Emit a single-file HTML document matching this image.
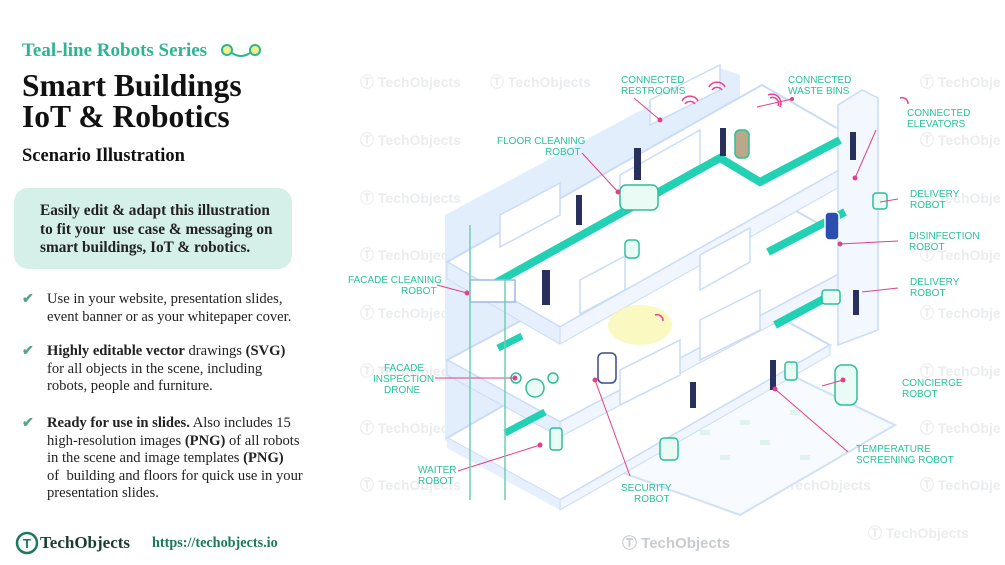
<!DOCTYPE html>
<html><head><meta charset="utf-8"><style>
body{margin:0;width:1005px;height:565px;background:#fff;overflow:hidden;position:relative;font-family:"Liberation Serif",serif}
.a{position:absolute;white-space:nowrap}
.t{font-weight:bold;color:#111}
.b{font-size:14.6px;color:#222;line-height:17.5px}
.ck{position:absolute;left:22px;color:#5aa28a;font-size:14px;font-weight:bold}
.lb{font-family:"Liberation Sans",sans-serif;font-size:10px;fill:#28c29c}
.wm{font-family:"Liberation Sans",sans-serif;font-size:14px;fill:#eaecee;font-weight:bold}
</style></head><body>
<div class="a" style="left:22px;top:40px;font-size:19px;font-weight:bold;color:#2bb594">Teal-line Robots Series</div>
<svg class="a" style="left:220px;top:42px" width="44" height="18"><circle cx="7" cy="8" r="5" fill="#f3f08a" stroke="#2bb594" stroke-width="2"/><circle cx="35" cy="8" r="5" fill="#f3f08a" stroke="#2bb594" stroke-width="2"/><path d="M12 11 Q21 17 30 11" fill="none" stroke="#2bb594" stroke-width="2"/></svg>
<div class="a t" style="left:22px;top:70px;font-size:31.5px;line-height:31px">Smart Buildings<br>IoT &amp; Robotics</div>
<div class="a t" style="left:22px;top:146px;font-size:18.5px">Scenario Illustration</div>
<div class="a" style="left:14px;top:188px;width:278px;height:81px;background:#d5f0e8;border-radius:14px"></div>
<div class="a t" style="left:40px;top:202px;font-size:15.3px;line-height:18.5px;color:#222">Easily edit &amp; adapt this illustration<br>to fit your &nbsp;use case &amp; messaging on<br>smart buildings, IoT &amp; robotics.</div>
<div class="ck" style="top:291px">✔</div>
<div class="a b" style="left:47px;top:291px">Use in your website, presentation slides,<br>event banner or as your whitepaper cover.</div>
<div class="ck" style="top:343px">✔</div>
<div class="a b" style="left:47px;top:343px"><b>Highly editable vector</b> drawings <b>(SVG)</b><br>for all objects in the scene, including<br>robots, people and furniture.</div>
<div class="ck" style="top:415px">✔</div>
<div class="a b" style="left:47px;top:415px"><b>Ready for use in slides.</b> Also includes 15<br>high-resolution images <b>(PNG)</b> of all robots<br>in the scene and image templates <b>(PNG)</b><br>of &nbsp;building and floors for quick use in your<br>presentation slides.</div>
<svg class="a" style="left:15px;top:531px" width="24" height="24"><circle cx="12" cy="12" r="10" fill="none" stroke="#1b7a5c" stroke-width="2.5"/><text x="12" y="17" text-anchor="middle" font-size="13" font-weight="bold" fill="#1b7a5c" font-family="Liberation Sans">T</text></svg>
<div class="a" style="left:40px;top:533px;font-size:17px;font-weight:bold;color:#1c3d33">TechObjects</div>
<div class="a" style="left:152px;top:535px;font-size:14.2px;font-weight:bold;color:#1b7a5c">https://techobjects.io</div>

<svg class="a" style="left:0;top:0" width="1005" height="565">
<g class="wm">
<text x="360" y="87">Ⓣ TechObjects</text><text x="490" y="87">Ⓣ TechObjects</text><text x="920" y="87">Ⓣ TechObje</text>
<text x="360" y="145">Ⓣ TechObjects</text><text x="920" y="145">Ⓣ TechObje</text>
<text x="360" y="203">Ⓣ TechObjects</text><text x="920" y="203">Ⓣ TechObje</text>
<text x="360" y="260">Ⓣ TechObjects</text><text x="920" y="260">Ⓣ TechObje</text>
<text x="360" y="318">Ⓣ TechObjects</text><text x="920" y="318">Ⓣ TechObje</text>
<text x="360" y="376">Ⓣ TechObjects</text><text x="920" y="376">Ⓣ TechObje</text>
<text x="360" y="433">Ⓣ TechObjects</text><text x="920" y="433">Ⓣ TechObje</text>
<text x="360" y="490">Ⓣ TechObjects</text><text x="770" y="490">Ⓣ TechObjects</text><text x="920" y="490">Ⓣ TechObje</text>
<text x="868" y="538">Ⓣ TechObjects</text>
</g>
<text x="622" y="548" font-family="Liberation Sans" font-size="15" font-weight="bold" fill="#c8cccf">Ⓣ TechObjects</text>
<polygon points="445,215 720,68 740,75 740,160 570,250 570,400 565,505 445,440" fill="#e2eefc"/>
<polygon points="615,470 740,515 895,425 770,365" fill="#f7fafe" stroke="#cfe0f7" stroke-width="2"/>
<g fill="#dff3ec"><rect x="700" y="430" width="10" height="5"/><rect x="740" y="420" width="10" height="5"/><rect x="760" y="440" width="10" height="5"/><rect x="720" y="455" width="10" height="5"/><rect x="790" y="410" width="10" height="5"/><rect x="800" y="455" width="10" height="5"/></g>
<polygon points="447,438 560,500 830,345 717,283" fill="#fff" stroke="#c9dcf7" stroke-width="2"/>
<polygon points="447,438 560,500 560,510 447,448" fill="#e6effd"/>
<polygon points="560,500 830,345 830,355 560,510" fill="#f0f5fe" stroke="#c9dcf7"/>
<polygon points="447,360 560,422 875,255 762,192" fill="#fff" stroke="#c9dcf7" stroke-width="2"/>
<polygon points="447,360 560,422 560,437 447,375" fill="#e6effd" stroke="#c9dcf7"/>
<polygon points="560,422 875,255 875,270 560,437" fill="#f0f5fe" stroke="#c9dcf7"/>
<polygon points="447,262 560,327 875,150 762,85" fill="#fff" stroke="#c9dcf7" stroke-width="2"/>
<polygon points="447,262 560,327 560,344 447,279" fill="#e6effd" stroke="#c9dcf7"/>
<polygon points="560,327 875,150 875,167 560,344" fill="#f0f5fe" stroke="#c9dcf7"/>
<g fill="#fff" stroke="#c9dcf7" stroke-width="1.5">
<polygon points="500,215 560,183 560,215 500,247"/><polygon points="620,175 700,130 700,165 620,210"/>
<polygon points="650,100 720,65 720,90 650,125"/><polygon points="700,255 750,228 750,262 700,290"/>
<polygon points="580,280 625,256 625,290 580,314"/><polygon points="700,320 760,290 760,330 700,360"/>
<polygon points="620,370 680,340 680,375 620,405"/>
</g>
<polygon points="838,105 862,90 878,98 878,330 838,345" fill="#f3f8fe" stroke="#c9dcf7" stroke-width="1.5"/>
<g stroke="#22d0b4" stroke-linecap="butt" fill="none">
<polyline points="492,285 720,158 760,182 840,140" stroke-width="8"/>
<line x1="768" y1="252" x2="845" y2="212" stroke-width="8"/>
<line x1="775" y1="325" x2="835" y2="293" stroke-width="8"/>
<line x1="498" y1="348" x2="522" y2="336" stroke-width="7"/>
<line x1="505" y1="433" x2="545" y2="412" stroke-width="7"/>
</g>
<ellipse cx="640" cy="325" rx="32" ry="20" fill="#f8f7a8" opacity=".7"/>
<g stroke="#2bbf9a" fill="#eafaf4" stroke-width="1.5">
<rect x="735" y="130" width="14" height="28" rx="5" fill="#b9a88a"/>
<rect x="620" y="185" width="38" height="25" rx="6"/>
<rect x="825" y="212" width="14" height="28" rx="4" fill="#2a4fb0" stroke="#fff"/>
<rect x="625" y="240" width="14" height="18" rx="4"/>
<rect x="822" y="290" width="18" height="14" rx="3"/>
<rect x="873" y="193" width="14" height="16" rx="3"/>
<circle cx="535" cy="388" r="9"/><circle cx="516" cy="378" r="5"/><circle cx="553" cy="378" r="5"/>
<rect x="835" y="365" width="22" height="40" rx="7"/>
<rect x="598" y="353" width="18" height="30" rx="5" fill="#fff" stroke="#3b4a8c"/>
<rect x="660" y="438" width="18" height="22" rx="4"/>
<rect x="550" y="428" width="12" height="22" rx="3"/>
<rect x="785" y="362" width="12" height="18" rx="3"/>
<rect x="470" y="280" width="45" height="22" fill="#fff" stroke="#9cb8e8"/>
</g>
<g fill="#28305e">
<rect x="542" y="270" width="8" height="35"/><rect x="634" y="148" width="7" height="32"/><rect x="850" y="132" width="6" height="28"/>
<rect x="690" y="382" width="6" height="26"/><rect x="770" y="360" width="6" height="30"/><rect x="576" y="195" width="6" height="30"/><rect x="853" y="290" width="6" height="25"/><rect x="720" y="128" width="6" height="28"/>
</g>
<g stroke="#e0408a" stroke-width="1" fill="#e0408a">
<line x1="634" y1="98" x2="660" y2="120"/><circle cx="660" cy="120" r="2"/>
<line x1="792" y1="99" x2="757" y2="107"/><circle cx="792" cy="99" r="1.5"/>
<line x1="582" y1="153" x2="618" y2="192"/><circle cx="618" cy="192" r="2"/>
<line x1="876" y1="130" x2="855" y2="178"/><circle cx="855" cy="178" r="2"/>
<line x1="898" y1="199" x2="880" y2="202"/>
<line x1="898" y1="241" x2="840" y2="244"/><circle cx="840" cy="244" r="2"/>
<line x1="898" y1="288" x2="862" y2="292"/>
<line x1="437" y1="285" x2="467" y2="293"/><circle cx="467" cy="293" r="2"/>
<line x1="435" y1="378" x2="515" y2="378"/><circle cx="515" cy="378" r="2"/>
<line x1="458" y1="471" x2="540" y2="445"/><circle cx="540" cy="445" r="2"/>
<line x1="630" y1="476" x2="595" y2="380"/><circle cx="595" cy="380" r="2"/>
<line x1="822" y1="386" x2="843" y2="380"/><circle cx="843" cy="380" r="2"/>
<line x1="848" y1="452" x2="775" y2="389"/><circle cx="775" cy="389" r="2"/>
</g>
<g class="lb">
<text x="621" y="83">CONNECTED</text><text x="621" y="94">RESTROOMS</text>
<text x="788" y="83">CONNECTED</text><text x="788" y="94">WASTE BINS</text>
<text x="907" y="116">CONNECTED</text><text x="907" y="127">ELEVATORS</text>
<text x="497" y="144">FLOOR CLEANING</text><text x="545" y="155">ROBOT</text>
<text x="910" y="197">DELIVERY</text><text x="910" y="208">ROBOT</text>
<text x="909" y="239">DISINFECTION</text><text x="909" y="250">ROBOT</text>
<text x="910" y="285">DELIVERY</text><text x="910" y="296">ROBOT</text>
<text x="348" y="283">FACADE CLEANING</text><text x="401" y="294">ROBOT</text>
<text x="384" y="371">FACADE</text><text x="373" y="382">INSPECTION</text><text x="384" y="393">DRONE</text>
<text x="902" y="386">CONCIERGE</text><text x="902" y="397">ROBOT</text>
<text x="418" y="473">WAITER</text><text x="418" y="484">ROBOT</text>
<text x="621" y="491">SECURITY</text><text x="634" y="502">ROBOT</text>
<text x="856" y="452">TEMPERATURE</text><text x="856" y="463">SCREENING ROBOT</text>
</g>
<g stroke="#ec3f8f" fill="none" stroke-width="1.5">
<path d="M685 104 a6 6 0 0 1 10 0 M682 101 a9 9 0 0 1 16 0"/><path d="M712 90 a6 6 0 0 1 10 0 M709 87 a9 9 0 0 1 16 0"/>
<path d="M770 98 a6 6 0 0 1 8 8 M768 95 a9 9 0 0 1 12 12"/><path d="M900 98 a6 6 0 0 1 8 6"/><path d="M655 315 a6 6 0 0 1 8 6"/>
</g>
<line x1="470" y1="225" x2="470" y2="500" stroke="#6fcfae" stroke-width="1.5"/>
<line x1="505" y1="280" x2="505" y2="500" stroke="#6fcfae" stroke-width="1.5"/>
</svg>
</body></html>
